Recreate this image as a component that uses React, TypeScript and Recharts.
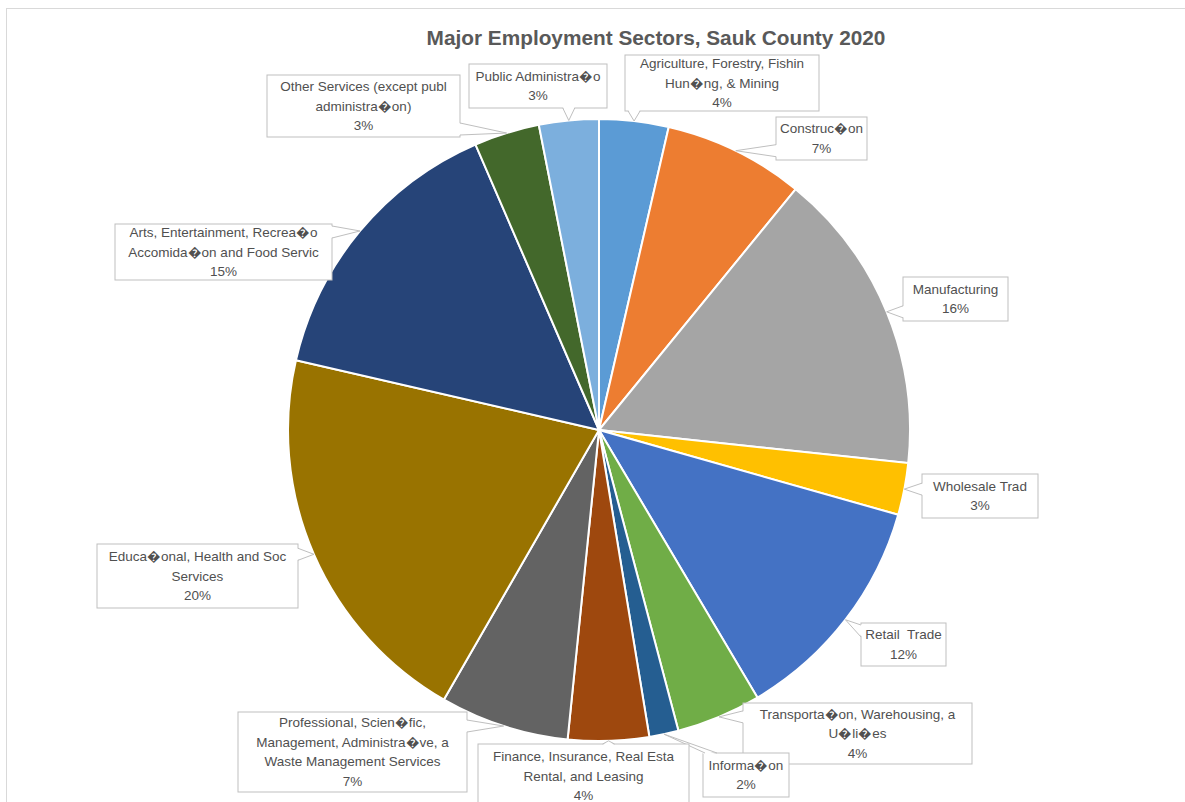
import { PieChart, Pie, Cell } from 'recharts';

// sectors listed clockwise from 12 o'clock
const sectors = [
  'Agriculture, Forestry, Fishin\nHun\uFFFDng, & Mining',
  'Construc\uFFFDon',
  'Manufacturing',
  'Wholesale Trad',
  'Retail  Trade',
  'Transporta\uFFFDon, Warehousing, a\nU\uFFFDli\uFFFDes',
  'Informa\uFFFDon',
  'Finance, Insurance, Real Esta\nRental, and Leasing',
  'Professional, Scien\uFFFDfic,\nManagement, Administra\uFFFDve, a\nWaste Management Services',
  'Educa\uFFFDonal, Health and Soc\nServices',
  'Arts, Entertainment, Recrea\uFFFDo\nAccomida\uFFFDon and Food Servic',
  'Other Services (except publ\nadministra\uFFFDon)',
  'Public Administra\uFFFDo',
];

// share of employment, percent
const shares = [3.6, 7.3, 15.8, 2.7, 12.1, 4.4, 1.52, 4.2, 6.7, 20.3, 14.9, 3.4, 3.1];

const colors = [
  '#5B9BD5', '#ED7D31', '#A5A5A5', '#FFC000', '#4472C4', '#70AD47',
  '#255E91', '#9E480E', '#636363', '#997300', '#264478', '#43682B', '#7CAFDD',
];

// callout boxes: offset of top-left from pie centre, size, side the pointer leaves from
const labelBoxes = [
  { dx: 26, dy: -375, w: 194, h: 56, side: 'bottom' },
  { dx: 177, dy: -313, w: 91, h: 43, side: 'left' },
  { dx: 304, dy: -153, w: 105, h: 44, side: 'left' },
  { dx: 323, dy: 44, w: 116, h: 44, side: 'left' },
  { dx: 262, dy: 193, w: 85, h: 43, side: 'left' },
  { dx: 144, dy: 273, w: 229, h: 61, side: 'left' },
  { dx: 104, dy: 323, w: 86, h: 44, side: 'top' },
  { dx: -121, dy: 314, w: 211, h: 64, side: 'top' },
  { dx: -361, dy: 282, w: 229, h: 80, side: 'right' },
  { dx: -502, dy: 114, w: 201, h: 64, side: 'right' },
  { dx: -484, dy: -206, w: 217, h: 56, side: 'right' },
  { dx: -332, dy: -355, w: 193, h: 62, side: 'right' },
  { dx: -130, dy: -366, w: 138, h: 44, side: 'bottom' },
];

const RADIAN = Math.PI / 180;
const clamp = (v: number, lo: number, hi: number) => Math.max(lo, Math.min(hi, v));

function renderCallout(props: any) {
  const { cx, cy, midAngle, outerRadius, index, percent } = props;
  const box = labelBoxes[index];
  const tx = cx + outerRadius * Math.cos(-midAngle * RADIAN);
  const ty = cy + outerRadius * Math.sin(-midAngle * RADIAN);
  const x = cx + box.dx;
  const y = cy + box.dy;
  const half = 6;
  let b1: number[], b2: number[], i1: number[], i2: number[];
  if (box.side === 'left' || box.side === 'right') {
    const ex = box.side === 'left' ? x : x + box.w;
    const inset = box.side === 'left' ? 1.5 : -1.5;
    const my = clamp(ty, y + half + 2, y + box.h - half - 2);
    b1 = [ex, my - half];
    b2 = [ex, my + half];
    i1 = [ex + inset, my - half];
    i2 = [ex + inset, my + half];
  } else {
    const ey = box.side === 'top' ? y : y + box.h;
    const inset = box.side === 'top' ? 1.5 : -1.5;
    const mx = clamp(tx, x + half + 2, x + box.w - half - 2);
    b1 = [mx - half, ey];
    b2 = [mx + half, ey];
    i1 = [mx - half, ey + inset];
    i2 = [mx + half, ey + inset];
  }
  const lines = sectors[index].split('\n');
  lines.push(`${Math.round(percent * 100)}%`);
  const lh = 19.5;
  const firstY = y + box.h / 2 - ((lines.length - 1) * lh) / 2;
  return (
    <g key={`callout-${index}`}>
      <rect x={x} y={y} width={box.w} height={box.h} fill="#fff" stroke="#BFBFBF" strokeWidth={1} />
      <polygon points={`${tx},${ty} ${i1[0]},${i1[1]} ${i2[0]},${i2[1]}`} fill="#fff" stroke="none" />
      <polyline points={`${b1[0]},${b1[1]} ${tx},${ty} ${b2[0]},${b2[1]}`} fill="none" stroke="#BFBFBF" strokeWidth={1} />
      <text
        x={x + box.w / 2}
        textAnchor="middle"
        fontFamily="'Liberation Sans', Arial, sans-serif"
        fontSize={13.5}
        fill="#505050"
        style={{ whiteSpace: 'pre' }}
      >
        {lines.map((ln, k) => (
          <tspan key={k} x={x + box.w / 2} y={firstY + k * lh} dominantBaseline="central">
            {ln}
          </tspan>
        ))}
      </text>
    </g>
  );
}

export default function App() {
  const data = sectors.map((name, i) => ({ name, value: shares[i] }));
  return (
    <div style={{ position: 'absolute', left: 0, top: 0, width: 1185, height: 802, overflow: 'hidden', background: '#fff' }}>
      <div style={{ position: 'absolute', left: 6, top: 8, width: 1300, height: 900, border: '1px solid #D9D9D9' }} />
      <div
        style={{
          position: 'absolute', left: 0, top: 26, width: 1312, textAlign: 'center',
          fontFamily: "'Liberation Sans', Arial, sans-serif", fontWeight: 'bold', fontSize: 20.8, color: '#595959',
        }}
      >
        Major Employment Sectors, Sauk County 2020
      </div>
      <div style={{ position: 'absolute', left: 0, top: 0 }}>
        <PieChart width={1185} height={802} margin={{ top: 0, right: 0, bottom: 0, left: 0 }}>
          <Pie
            data={data}
            dataKey="value"
            nameKey="name"
            cx={599}
            cy={430}
            outerRadius={311}
            startAngle={90}
            endAngle={-270}
            stroke="#fff"
            strokeWidth={2}
            label={renderCallout}
            labelLine={false}
            isAnimationActive={false}
          >
            {data.map((d, i) => (
              <Cell key={d.name} fill={colors[i]} />
            ))}
          </Pie>
        </PieChart>
      </div>
    </div>
  );
}
